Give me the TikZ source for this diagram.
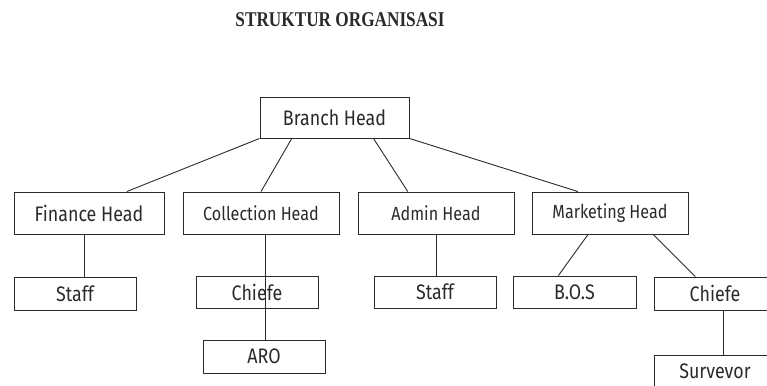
\documentclass[tikz,border=0pt]{standalone}
\usepackage{fontspec}
\setsansfont[FakeStretch=0.85]{Fira Sans}
\newfontfamily\titlefont[FakeStretch=0.82]{Liberation Serif}
\usetikzlibrary{calc}
\definecolor{ink}{HTML}{2A2A2A}

\begin{document}
\begin{tikzpicture}[
  x=1pt,y=-1pt,
  font=\sffamily,
  unit/.style={draw=ink,line width=0.9pt,text=ink,inner sep=0pt,
    minimum width=156pt,minimum height=42pt,font=\sffamily\fontsize{19}{22}\selectfont},
  sub/.style={unit,minimum width=122pt,minimum height=33pt,
    font=\sffamily\fontsize{21}{24}\selectfont},
  link/.style={draw=ink,line width=0.9pt}
]
  \useasboundingbox (0,0) rectangle (767,385);
  \clip (0,0) rectangle (767,385);

  \node[font=\titlefont\bfseries\fontsize{21}{24}\selectfont,text=ink] (title) at (340,20) {STRUKTUR ORGANISASI};

  \node[unit,minimum width=149pt,minimum height=41pt,
    font=\sffamily\fontsize{21}{24}\selectfont] (branch) at (334.5,117.5) {Branch Head};

  \node[unit,minimum width=150pt,font=\sffamily\fontsize{21}{24}\selectfont] (finance) at (89,213) {Finance Head};
  \node[unit] (collection) at (261,213) {Collection Head};
  \node[unit] (admin) at (436,213) {Admin Head};
  \node[unit] (marketing) at (610,213) {Marketing Head};

  \node[sub] (staffa) at (75,293.5) {Staff};
  \node[sub,minimum height=32pt] (chiefea) at (257,292) {Chiefe};
  \node[sub] (aro) at (264,356.5) {ARO};
  \node[sub,minimum height=32pt] (staffb) at (435,292) {Staff};
  \node[sub,minimum height=32pt,minimum width=123pt] (bos) at (574.5,292) {B.O.S};
  \node[sub] (chiefeb) at (715,293.5) {Chiefe};
  \node[sub] (survevor) at (715,371.5) {Survevor};

  % branch head to the four heads
  \draw[link] (branch.south west) -- ($(finance.north west)!0.75!(finance.north east)$);
  \draw[link] ($(branch.south west)!0.215!(branch.south east)$) -- (collection.north);
  \draw[link] ($(branch.south west)!0.76!(branch.south east)$) -- ($(admin.north west)!0.32!(admin.north east)$);
  \draw[link] (branch.south east) -- ($(marketing.north west)!0.295!(marketing.north east)$);

  % heads to their staff
  \coordinate (fa) at ($(finance.south west)!0.473!(finance.south east)$);
  \draw[link] (fa) -- (fa |- staffa.north);
  \coordinate (ca) at ($(collection.south west)!0.53!(collection.south east)$);
  \draw[link] (ca) -- (ca |- aro.north);
  \draw[link] (admin.south) -- (admin.south |- staffb.north);
  \draw[link] ($(marketing.south west)!0.36!(marketing.south east)$) -- ($(bos.north west)!0.37!(bos.north east)$);
  \draw[link] ($(marketing.south west)!0.775!(marketing.south east)$) -- ($(chiefeb.north west)!0.34!(chiefeb.north east)$);
  \coordinate (cb) at ($(chiefeb.south west)!0.57!(chiefeb.south east)$);
  \draw[link] (cb) -- (cb |- survevor.north);
\end{tikzpicture}
\end{document}
